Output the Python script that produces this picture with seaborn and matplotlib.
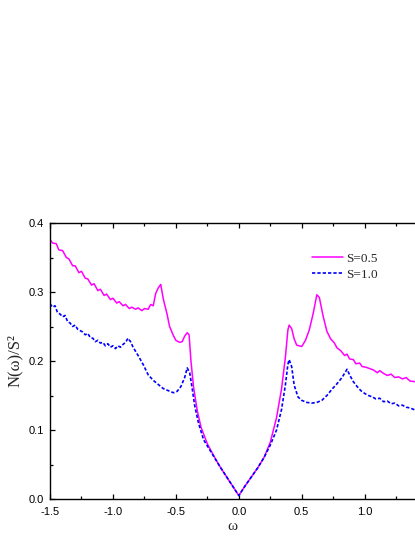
import matplotlib
matplotlib.use("Agg")
import matplotlib.pyplot as plt
import seaborn as sns
import pandas as pd
from matplotlib.ticker import MultipleLocator

omega_a = [-1.50,-1.48,-1.45,-1.43,-1.40,-1.37,-1.35,-1.32,-1.30,-1.27,-1.25,-1.22,-1.20,-1.17,-1.15,-1.12,-1.10,-1.07,-1.05,-1.02,-1.00,-0.97,-0.95,-0.92,-0.90,-0.87,-0.85,-0.82,-0.80,-0.77,-0.75,-0.72,-0.70,-0.68,-0.66,-0.64,-0.62,-0.60,-0.57,-0.55,-0.52,-0.50,-0.47,-0.45,-0.43,-0.41,-0.395,-0.38,-0.36,-0.33,-0.30,-0.25,-0.20,-0.15,-0.10,-0.05,0.00,0.05,0.10,0.15,0.20,0.25,0.30,0.34,0.37,0.39,0.40,0.42,0.44,0.46,0.50,0.53,0.56,0.59,0.62,0.64,0.67,0.70,0.73,0.76,0.78,0.81,0.84,0.86,0.88,0.91,0.93,0.96,0.98,1.01,1.04,1.07,1.10,1.12,1.15,1.18,1.21,1.24,1.27,1.30,1.33,1.36,1.40]
n_a = [0.376,0.371,0.370,0.361,0.360,0.350,0.348,0.338,0.338,0.328,0.330,0.320,0.319,0.310,0.312,0.302,0.304,0.295,0.297,0.289,0.291,0.284,0.286,0.280,0.282,0.276,0.278,0.275,0.277,0.273,0.276,0.275,0.282,0.280,0.298,0.306,0.311,0.290,0.268,0.250,0.237,0.230,0.227,0.228,0.236,0.241,0.238,0.200,0.163,0.128,0.104,0.080,0.063,0.047,0.033,0.019,0.005,0.019,0.032,0.045,0.060,0.082,0.118,0.160,0.205,0.245,0.252,0.247,0.232,0.223,0.221,0.230,0.245,0.268,0.296,0.292,0.265,0.243,0.232,0.226,0.219,0.215,0.208,0.210,0.203,0.202,0.196,0.197,0.192,0.191,0.189,0.187,0.183,0.186,0.182,0.179,0.181,0.176,0.177,0.174,0.176,0.171,0.170]

omega_b = [-1.50,-1.48,-1.46,-1.44,-1.42,-1.40,-1.38,-1.36,-1.34,-1.32,-1.30,-1.28,-1.26,-1.24,-1.22,-1.20,-1.18,-1.16,-1.14,-1.12,-1.10,-1.08,-1.06,-1.04,-1.02,-1.00,-0.98,-0.96,-0.94,-0.92,-0.90,-0.88,-0.86,-0.84,-0.80,-0.76,-0.72,-0.68,-0.64,-0.60,-0.56,-0.52,-0.49,-0.46,-0.43,-0.41,-0.39,-0.37,-0.35,-0.32,-0.28,-0.25,-0.20,-0.15,-0.10,-0.05,0.00,0.05,0.10,0.15,0.20,0.25,0.30,0.34,0.37,0.39,0.40,0.42,0.44,0.47,0.50,0.54,0.58,0.62,0.66,0.70,0.74,0.78,0.82,0.86,0.88,0.91,0.94,0.97,1.00,1.03,1.06,1.09,1.12,1.15,1.18,1.21,1.24,1.27,1.30,1.33,1.36,1.40]
n_b = [0.283,0.278,0.280,0.270,0.268,0.264,0.266,0.257,0.255,0.250,0.252,0.246,0.244,0.242,0.238,0.240,0.234,0.233,0.228,0.230,0.226,0.227,0.222,0.225,0.220,0.222,0.218,0.222,0.220,0.224,0.227,0.233,0.228,0.220,0.208,0.195,0.180,0.172,0.166,0.160,0.157,0.154,0.156,0.163,0.176,0.190,0.183,0.160,0.135,0.110,0.086,0.077,0.062,0.047,0.033,0.019,0.005,0.019,0.032,0.045,0.060,0.078,0.100,0.130,0.165,0.195,0.202,0.192,0.165,0.148,0.143,0.140,0.139,0.140,0.143,0.150,0.159,0.167,0.176,0.188,0.180,0.170,0.163,0.157,0.153,0.150,0.148,0.145,0.146,0.141,0.142,0.138,0.139,0.135,0.136,0.133,0.132,0.129]

labels = ["S=0.5", "S=1.0"]
x_ticks = [-1.5, -1.0, -0.5, 0.0, 0.5, 1.0]
y_ticks = [0.0, 0.1, 0.2, 0.3, 0.4]

sns.set_style("ticks")
plt.rcParams['font.family'] = ['Liberation Sans', 'DejaVu Sans']

fig = plt.figure(figsize=(4.15, 5.37), dpi=100)
ax = fig.add_axes([50/415, 38/537, 1 - 50/415, 276/537])

df_a = pd.DataFrame({"omega": omega_a, "N": n_a})
df_b = pd.DataFrame({"omega": omega_b, "N": n_b})
sns.lineplot(data=df_a, x="omega", y="N", ax=ax, color="#ff00ff", lw=1.1, label=labels[0], sort=False)
sns.lineplot(data=df_b, x="omega", y="N", ax=ax, color="#0000ff", lw=1.2, label=labels[1], sort=False,
             linestyle=(0, (2.0, 1.2)))

ax.set_xlim(-1.5, 1.4)
ax.set_ylim(0.0, 0.4)
ax.set_xticks(x_ticks)
ax.set_xticklabels([f"{v:.1f}" for v in x_ticks])
ax.set_yticks(y_ticks)
ax.set_yticklabels([f"{v:.1f}" for v in y_ticks])
ax.xaxis.set_minor_locator(MultipleLocator(0.25))
ax.yaxis.set_minor_locator(MultipleLocator(0.05))
ax.tick_params(which="both", direction="in", top=True, right=False, labelsize=8, width=0.9, colors="black")
ax.tick_params(which="major", length=3.5)
ax.tick_params(which="minor", length=2.2)
ax.tick_params(axis="x", which="major", pad=6)
ax.tick_params(axis="y", which="major", pad=4.5)
for s in ["left", "bottom", "top"]:
    ax.spines[s].set_linewidth(1.0)
    ax.spines[s].set_color("black")
ax.spines["right"].set_visible(False)

ax.set_xlabel("ω", family=["Liberation Serif", "DejaVu Serif"], fontsize=11, labelpad=2)
ax.set_ylabel("N(ω)/S²", family=["Liberation Serif", "DejaVu Serif"], fontsize=12, labelpad=4)

leg = ax.legend(loc="upper left", bbox_to_anchor=((312 - 50) / 365 - 0.015, 0.912), frameon=False,
                prop={"family": ["Liberation Serif", "DejaVu Serif"], "size": 9.5},
                handlelength=2.35, handletextpad=0.25, labelspacing=0.3, borderaxespad=0)

fig.savefig("out.png", dpi=100)
